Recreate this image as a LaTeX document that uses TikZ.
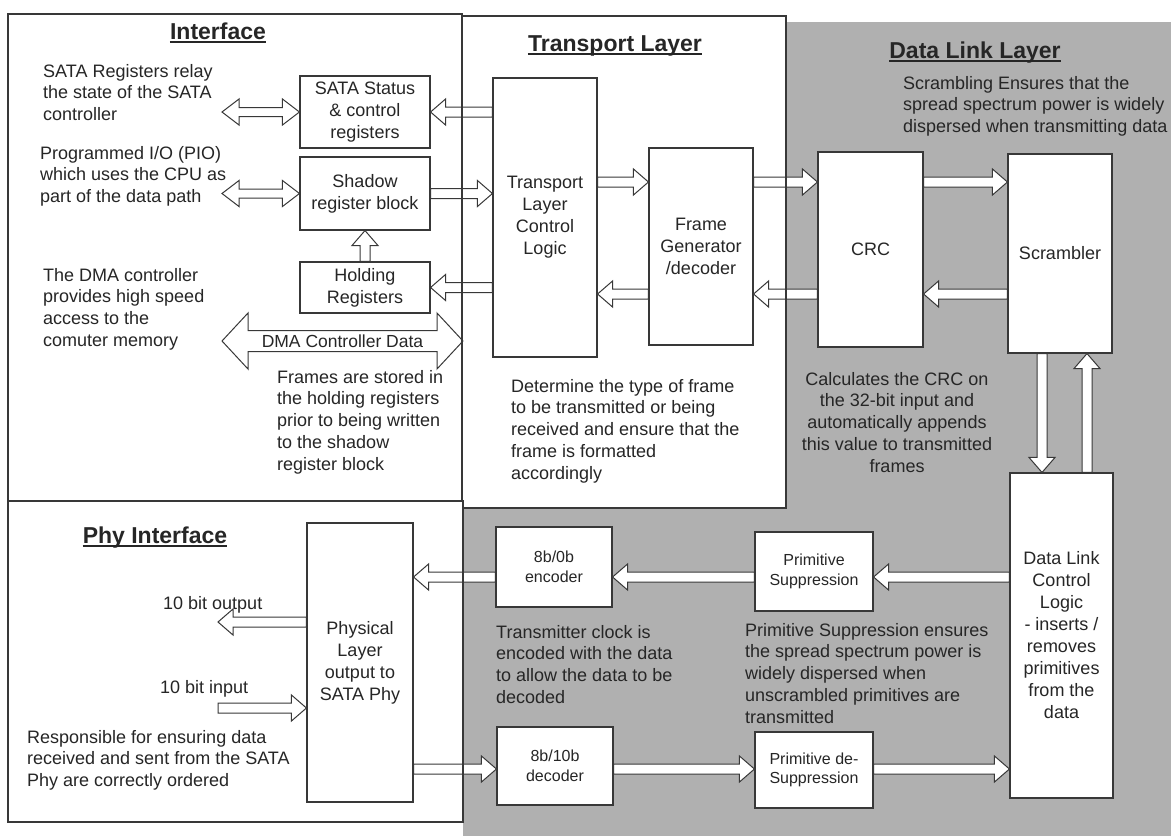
\documentclass[tikz,border=0pt]{standalone}
\usepackage{fontspec}
\setmainfont{Liberation Sans}
\usetikzlibrary{calc}

\tikzset{
  box/.style={draw=black!78, fill=white, line width=1.1pt, align=center,
    font=\fontsize{18}{22}\selectfont, text=black!85, inner sep=0pt},
  sbox/.style={box, font=\fontsize{16}{19.5}\selectfont},
  desc/.style={align=left, anchor=north west, inner sep=0pt,
    font=\fontsize{18}{21.7}\selectfont, text=black!85},
  cdesc/.style={desc, align=center, anchor=north},
  ttl/.style={anchor=base, inner sep=0pt, font=\fontsize{23}{27}\selectfont\bfseries, text=black!85},
  arrowline/.style={draw=black!78, fill=white, line width=1pt, line join=miter},
  panelline/.style={draw=black!78, line width=1.3pt},
}

% single-headed hollow block arrow: #1 shaft half, #2 head half, #3 head length, #4 from, #5 to
\newcommand\blockarr[5]{%
  \draw[arrowline] let \p1=#4, \p2=#5,
     \n1={atan2(\y2-\y1,\x2-\x1)}, \n2={veclen(\x2-\x1,\y2-\y1)} in
     [shift={(\p1)}, rotate=\n1]
     (0pt,#1pt) -- ({\n2-#3pt},#1pt) -- ({\n2-#3pt},#2pt) -- ({\n2+0pt},0pt)
     -- ({\n2-#3pt},-#2pt) -- ({\n2-#3pt},-#1pt) -- (0pt,-#1pt) -- cycle;}
% double-headed hollow block arrow
\newcommand\dblockarr[5]{%
  \draw[arrowline] let \p1=#4, \p2=#5,
     \n1={atan2(\y2-\y1,\x2-\x1)}, \n2={veclen(\x2-\x1,\y2-\y1)} in
     [shift={(\p1)}, rotate=\n1]
     (0pt,0pt) -- (#3pt,#2pt) -- (#3pt,#1pt) -- ({\n2-#3pt},#1pt) -- ({\n2-#3pt},#2pt)
     -- ({\n2+0pt},0pt) -- ({\n2-#3pt},-#2pt) -- ({\n2-#3pt},-#1pt) -- (#3pt,-#1pt)
     -- (#3pt,-#2pt) -- cycle;}
\newcommand\sarr[2]{\blockarr{5}{13}{15}{#1}{#2}}
\newcommand\dsarr[2]{\dblockarr{4.5}{13}{17}{#1}{#2}}

\begin{document}
\begin{tikzpicture}[x=1pt, y=-1pt]
\useasboundingbox (0,0) rectangle (1171,839);
\fill[white] (0,0) rectangle (1171,839);

% ---------- panels (fills) ----------
\fill[black!31] (463,22) rectangle (1171,836);
\fill[white] (8,14) rectangle (462,501);
\fill[white] (462,16) rectangle (786,508);
\fill[white] (8,501) rectangle (463,822);

% ---------- helper coordinates ----------
\coordinate (rowA) at (0,182);
\coordinate (rowB) at (0,294);
\coordinate (rowC) at (0,577);
\coordinate (rowD) at (0,769);
\coordinate (colA) at (1042,0);
\coordinate (colB) at (1087,0);
\coordinate (sataL) at (222,112);
\coordinate (shadowL) at (222,193.5);
\coordinate (dmaL) at (222,341);
\coordinate (dmaR) at (463,341);
\coordinate (outEnd) at (218,622);
\coordinate (inStart) at (218,708);

% ---------- boxes ----------
\node[box, minimum width=130pt, minimum height=72pt] (sata) at (365,112) {SATA Status\\\& control\\registers};
\node[box, minimum width=130pt, minimum height=73pt] (shadow) at (365,193.5) {Shadow\\register block};
\node[box, minimum width=130pt, minimum height=51pt] (holding) at (365,287.5) {Holding\\Registers};
\node[box, minimum width=104pt, minimum height=279pt] (tlcl) at (545,217.5) {Transport\\Layer\\Control\\Logic};
\node[box, minimum width=104pt, minimum height=197pt] (fg) at (701,246.5) {Frame\\Generator\\/decoder};
\node[box, minimum width=105pt, minimum height=195pt] (crc) at (870.5,249.5) {CRC};
\node[box, minimum width=104pt, minimum height=199pt] (scr) at (1060,253.5) {Scrambler};
\node[box, minimum width=103pt, minimum height=325pt] (dlcl) at (1061.5,635.5) {Data Link\\Control\\Logic\\- inserts /\\removes\\primitives\\from the\\data};
\node[sbox, minimum width=116pt, minimum height=80pt] (enc) at (554,567) {8b/0b\\encoder};
\node[sbox, minimum width=118pt, minimum height=79pt] (ps) at (814,571.5) {Primitive\\Suppression};
\node[sbox, minimum width=116pt, minimum height=78pt] (dec) at (555,766) {8b/10b\\decoder};
\node[sbox, minimum width=118pt, minimum height=76pt] (pds) at (814,770) {Primitive de-\\Suppression};
\node[box, minimum width=106pt, minimum height=279pt] (pl) at (360,662.5) {Physical\\Layer\\output to\\SATA Phy};

% ---------- connectors ----------
\dsarr{(sataL)}{(sata.west)}
\dsarr{(shadowL)}{(shadow.west)}
\sarr{(tlcl.west|-sata.east)}{(sata.east)}
\sarr{(shadow.east)}{(tlcl.west|-shadow.east)}
\sarr{(tlcl.west|-holding.east)}{(holding.east)}
\sarr{(holding.north)}{(shadow.south)}
\dblockarr{10.5}{28}{26}{(dmaL)}{(dmaR)}
\node[inner sep=0pt, font=\fontsize{17.5}{20}\selectfont, text=black!85] (dmatext) at ($(dmaL)!.5!(dmaR)$) {DMA Controller Data};

\sarr{(tlcl.east|-rowA)}{(fg.west|-rowA)}
\sarr{(fg.east|-rowA)}{(crc.west|-rowA)}
\sarr{(crc.east|-rowA)}{(scr.west|-rowA)}
\sarr{(scr.west|-rowB)}{(crc.east|-rowB)}
\sarr{(crc.west|-rowB)}{(fg.east|-rowB)}
\sarr{(fg.west|-rowB)}{(tlcl.east|-rowB)}

\sarr{(scr.south-|colA)}{(dlcl.north-|colA)}
\sarr{(dlcl.north-|colB)}{(scr.south-|colB)}

\sarr{(dlcl.west|-rowC)}{(ps.east|-rowC)}
\sarr{(ps.west|-rowC)}{(enc.east|-rowC)}
\sarr{(enc.west|-rowC)}{(pl.east|-rowC)}

\sarr{(pl.east|-rowD)}{(dec.west|-rowD)}
\sarr{(dec.east|-rowD)}{(pds.west|-rowD)}
\sarr{(pds.east|-rowD)}{(dlcl.west|-rowD)}

\sarr{(pl.west|-outEnd)}{(outEnd)}
\sarr{(inStart)}{(pl.west|-inStart)}

% ---------- panel borders ----------
\draw[panelline] (8,14) rectangle (462,501);
\draw[panelline] (462,16) -- (786,16) -- (786,508) -- (462,508);
\draw[panelline] (8,501) rectangle (463,822);

% ---------- titles ----------
\node[ttl] (tInt) at (218,39) {Interface};
\node[ttl] (tTra) at (615,51) {Transport Layer};
\node[ttl] (tDll) at (975,58) {Data Link Layer};
\node[ttl] (tPhy) at (155,543) {Phy Interface};
\foreach \t in {tInt,tTra,tDll,tPhy}
  \draw[black!85, line width=1.3pt] ([yshift=-3pt]\t.base west) -- ([yshift=-3pt]\t.base east);

% ---------- descriptions ----------
\node[desc] (d1) at (43,64) {SATA Registers relay\\the state of the SATA\\controller};
\node[desc] (d2) at (40,146) {Programmed I/O (PIO)\\which uses the CPU as\\part of the data path};
\node[desc] (d3) at (43,268) {The DMA controller\\provides high speed\\access to the\\comuter memory};
\node[desc] (d4) at (277,370) {Frames are stored in\\the holding registers\\prior to being written\\to the shadow\\register block};
\node[desc] (d5) at (511,379) {Determine the type of frame\\to be transmitted or being\\received and ensure that the\\frame is formatted\\accordingly};
\node[desc] (d6) at (903,76) {Scrambling Ensures that the\\spread spectrum power is widely\\dispersed when transmitting data};
\node[cdesc] (d7) at (897,372) {Calculates the CRC on\\the 32-bit input and\\automatically appends\\this value to transmitted\\frames};
\node[desc] (d8) at (496,625) {Transmitter clock is\\encoded with the data\\to allow the data to be\\decoded};
\node[desc] (d9) at (745,623) {Primitive Suppression ensures\\the spread spectrum power is\\widely dispersed when\\unscrambled primitives are\\transmitted};
\node[desc] (d10) at (163,596) {10 bit output};
\node[desc] (d11) at (160,680) {10 bit input};
\node[desc] (d12) at (27,730) {Responsible for ensuring data\\received and sent from the SATA\\Phy are correctly ordered};
\end{tikzpicture}
\end{document}
